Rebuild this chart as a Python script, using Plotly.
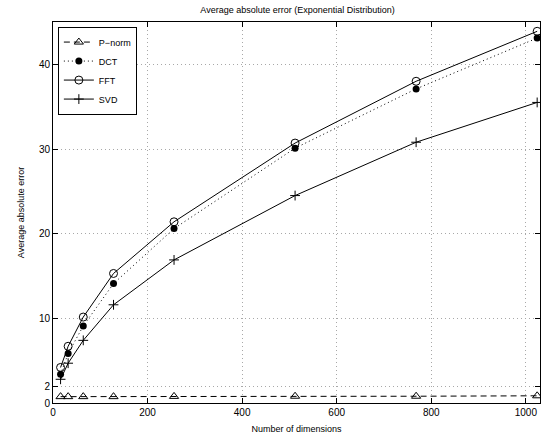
import plotly.graph_objects as go

dims = [16, 32, 64, 128, 256, 512, 768, 1024]
pnorm = [0.75, 0.75, 0.75, 0.75, 0.78, 0.8, 0.8, 0.85]
dct = [3.4, 5.85, 9.1, 14.1, 20.6, 30.1, 37.1, 43.1]
fft = [4.2, 6.7, 10.15, 15.3, 21.4, 30.7, 38.0, 43.9]
svd = [2.8, 4.7, 7.4, 11.6, 16.9, 24.5, 30.8, 35.5]
xticks = [0, 200, 400, 600, 800, 1000]
yticks = [0, 2, 10, 20, 30, 40]

fig = go.Figure()
fig.add_trace(go.Scatter(x=dims, y=pnorm, name="P\u2212norm", mode="lines+markers",
                         line=dict(color="black", width=1, dash="6px,4px"),
                         marker=dict(symbol="triangle-up-open", size=8, color="black", line=dict(width=1))))
fig.add_trace(go.Scatter(x=dims, y=dct, name="DCT", mode="lines+markers",
                         line=dict(color="black", width=1, dash="1px,3px"),
                         marker=dict(symbol="circle", size=7, color="black")))
fig.add_trace(go.Scatter(x=dims, y=fft, name="FFT", mode="lines+markers",
                         line=dict(color="black", width=1),
                         marker=dict(symbol="circle-open", size=8, color="black", line=dict(width=1))))
fig.add_trace(go.Scatter(x=dims, y=svd, name="SVD", mode="lines+markers",
                         line=dict(color="black", width=1),
                         marker=dict(symbol="cross-thin-open", size=7, color="black", line=dict(width=1, color="black"))))

axis_common = dict(showline=True, linecolor="black", linewidth=1, mirror="ticks",
                   ticks="inside", ticklen=5, tickcolor="black",
                   showgrid=True, gridcolor="#a8a8a8", griddash="1px,3px", gridwidth=1,
                   zeroline=False, tickfont=dict(size=10, color="black"))

fig.update_layout(
    width=551, height=443,
    margin=dict(l=53, r=11, t=22, b=40),
    paper_bgcolor="white", plot_bgcolor="white",
    font=dict(family="Liberation Sans, Arial, sans-serif", color="black", size=9),
    title=dict(text="Average absolute error (Exponential Distribution)", x=0.54, xanchor="center",
               y=0.985, yanchor="top", font=dict(size=9)),
    xaxis=dict(range=[0, 1030], tickvals=xticks, title=dict(text="Number of dimensions", font=dict(size=9), standoff=8), **axis_common),
    yaxis=dict(range=[0, 45], tickvals=yticks, title=dict(text="Average absolute error", font=dict(size=9), standoff=12), **axis_common),
    legend=dict(x=0.01, y=0.988, xanchor="left", yanchor="top", bgcolor="white",
                bordercolor="black", borderwidth=1, font=dict(size=9),
                itemwidth=30, tracegroupgap=0),
    showlegend=True,
)

fig.write_html("out.html")
